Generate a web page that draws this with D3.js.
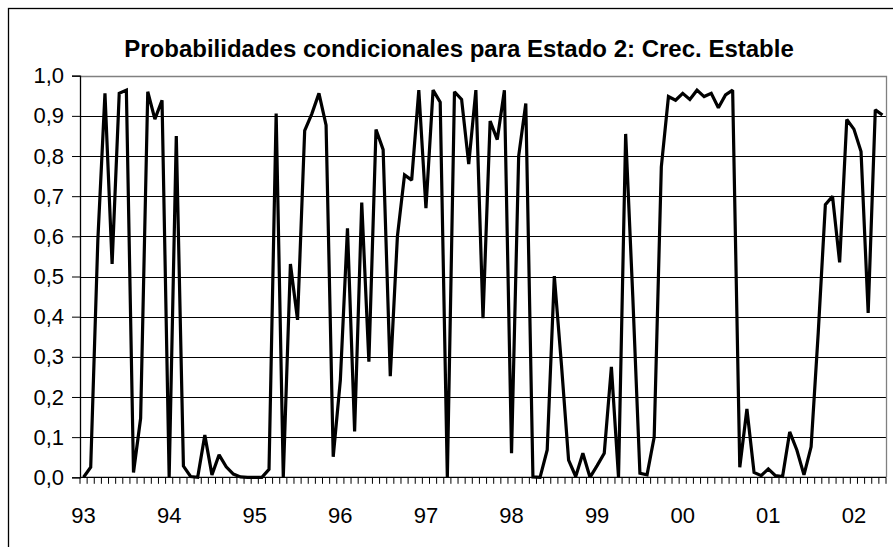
<!DOCTYPE html>
<html>
<head>
<meta charset="utf-8">
<script src="https://cdn.jsdelivr.net/npm/d3@7"></script>
<style>
  html, body { margin: 0; padding: 0; background: #fff; }
  svg { display: block; font-family: "Liberation Sans", Arial, sans-serif; }
</style>
</head>
<body>
<div id="chart"></div>
<script>
// monthly categories, Jan 1993 .. May 2002
const months = d3.timeMonth.range(new Date(1993, 0, 1), new Date(2002, 5, 1));

// conditional probability of state 2, one value per month
const probs = [
  0.00, 0.025, 0.59, 0.956, 0.531, 0.956, 0.964, 0.012, 0.147, 0.960, 0.892, 0.939,
  0.00, 0.850, 0.028, 0.002, 0.00, 0.105, 0.006, 0.056, 0.026, 0.008, 0.001, 0.00,
  0.00, 0.00, 0.020, 0.906, 0.00, 0.531, 0.392, 0.863, 0.905, 0.956, 0.877, 0.051,
  0.242, 0.620, 0.114, 0.684, 0.288, 0.866, 0.816, 0.252, 0.600, 0.753, 0.740, 0.964,
  0.670, 0.964, 0.934, 0.00, 0.960, 0.941, 0.780, 0.964, 0.396, 0.887, 0.841, 0.964,
  0.060, 0.800, 0.931, 0.001, 0.00, 0.068, 0.501, 0.280, 0.043, 0.002, 0.060, 0.00,
  0.029, 0.060, 0.275, 0.00, 0.855, 0.450, 0.010, 0.006, 0.100, 0.773, 0.948, 0.939,
  0.956, 0.941, 0.964, 0.948, 0.956, 0.920, 0.952, 0.964, 0.025, 0.170, 0.012, 0.004,
  0.021, 0.004, 0.002, 0.113, 0.068, 0.006, 0.076, 0.360, 0.679, 0.700, 0.535, 0.891,
  0.867, 0.811, 0.409, 0.915, 0.902
];

const yearLabels = ["93", "94", "95", "96", "97", "98", "99", "00", "01", "02"];
const yTicks = [0, 0.1, 0.2, 0.3, 0.4, 0.5, 0.6, 0.7, 0.8, 0.9, 1.0];

const title = "Probabilidades condicionales para Estado 2: Crec. Estable";

const width = 893, height = 547;
const plot = { left: 80, right: 886, top: 75.7, bottom: 477.3 };

const svg = d3.select("#chart").append("svg")
  .attr("width", width)
  .attr("height", height);

// chart area frame (runs off the right and bottom of the picture)
svg.append("rect")
  .attr("x", 8.5).attr("y", 8.5)
  .attr("width", 1000).attr("height", 1000)
  .attr("fill", "none")
  .attr("stroke", "#000")
  .attr("stroke-width", 1.3);

const x = d3.scaleBand()
  .domain(d3.range(months.length))
  .range([plot.left, plot.right])
  .paddingInner(0).paddingOuter(0);

const y = d3.scaleLinear().domain([0, 1]).range([plot.bottom, plot.top]);

const comma = d3.formatLocale({ decimal: ",", thousands: ".", grouping: [3], currency: ["", ""] }).format(".1f");

// horizontal gridlines
svg.append("g")
  .selectAll("line")
  .data(yTicks.filter(d => d > 0 && d < 1))
  .join("line")
  .attr("x1", plot.left).attr("x2", plot.right)
  .attr("y1", d => Math.round(y(d)) + 0.5).attr("y2", d => Math.round(y(d)) + 0.5)
  .attr("stroke", "#000").attr("stroke-width", 1);

// plot area border top and right (grey)
svg.append("path")
  .attr("d", `M${plot.left},${Math.round(plot.top) + 0.5}H${plot.right + 0.5}V${plot.bottom}`)
  .attr("fill", "none")
  .attr("stroke", "#808080")
  .attr("stroke-width", 1.3);

// y axis
const yAxis = d3.axisLeft(y)
  .tickValues(yTicks)
  .tickSize(8)
  .tickPadding(8)
  .tickFormat(comma);

const gy = svg.append("g")
  .attr("transform", `translate(${plot.left},0)`)
  .call(yAxis);
gy.select(".domain").attr("stroke", "#000").attr("stroke-width", 1.3);
gy.selectAll(".tick text").attr("font-size", 22).attr("fill", "#000")
  .attr("font-family", "Liberation Sans, Arial, sans-serif");

// x axis: ticks between monthly categories
const bw = x.bandwidth();
const gx = svg.append("g");
gx.append("line")
  .attr("x1", plot.left).attr("x2", plot.right)
  .attr("y1", plot.bottom).attr("y2", plot.bottom)
  .attr("stroke", "#000").attr("stroke-width", 1.3);
gx.selectAll(".mtick")
  .data(d3.range(months.length + 1))
  .join("line")
  .attr("class", "mtick")
  .attr("x1", i => plot.left + i * bw).attr("x2", i => plot.left + i * bw)
  .attr("y1", plot.bottom).attr("y2", plot.bottom + 6.5)
  .attr("stroke", "#000").attr("stroke-width", 1);

const januaries = months.map((m, i) => ({ m, i })).filter(d => d.m.getMonth() === 0);
gx.selectAll(".ylab")
  .data(januaries)
  .join("text")
  .attr("class", "ylab")
  .attr("x", d => x(d.i) + bw / 2)
  .attr("y", 523)
  .attr("text-anchor", "middle")
  .attr("font-size", 22)
  .attr("fill", "#000")
  .text((d, k) => yearLabels[k]);

// the series
const line = d3.line()
  .x((d, i) => x(i) + bw / 2)
  .y(d => y(d))
  .curve(d3.curveLinear);

svg.append("path")
  .datum(probs)
  .attr("d", line)
  .attr("fill", "none")
  .attr("stroke", "#000")
  .attr("stroke-width", 3.2)
  .attr("stroke-linejoin", "miter")
  .attr("stroke-miterlimit", 2);

// title
svg.append("text")
  .attr("x", 459)
  .attr("y", 57)
  .attr("text-anchor", "middle")
  .attr("font-size", 24)
  .attr("font-weight", "bold")
  .attr("fill", "#000")
  .text(title);
</script>
</body>
</html>
